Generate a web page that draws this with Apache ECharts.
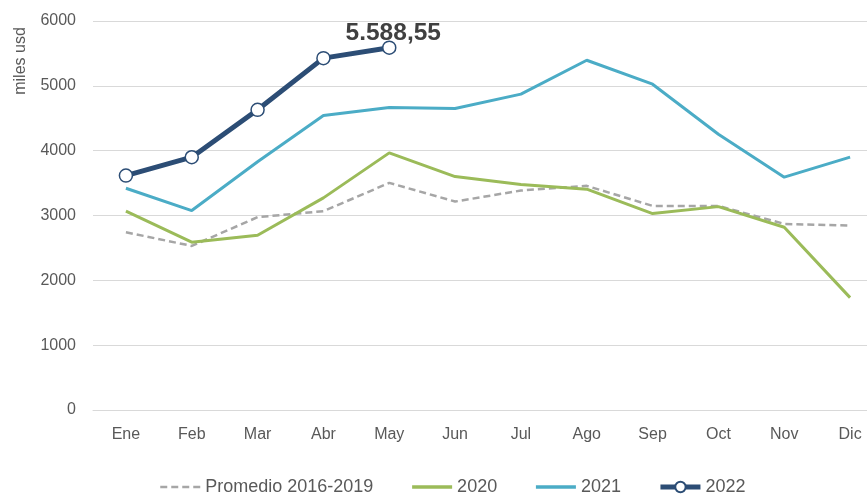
<!DOCTYPE html>
<html>
<head>
<meta charset="utf-8">
<script src="https://cdn.jsdelivr.net/npm/echarts@6/dist/echarts.min.js"></script>
<style>
  html, body { margin: 0; padding: 0; background: #fff; overflow: hidden; }
  /* el área del gráfico sigue más allá del borde derecho de la ventana */
  #chart { width: 883px; height: 495px; }
</style>
</head>
<body>
<div id="chart"></div>
<script>
const months = ["Ene", "Feb", "Mar", "Abr", "May", "Jun", "Jul", "Ago", "Sep", "Oct", "Nov", "Dic"];
const promedio = [2742, 2531, 2974, 3066, 3503, 3215, 3385, 3457, 3148, 3148, 2870, 2844];
const y2020 = [3066, 2588, 2696, 3272, 3966, 3600, 3477, 3406, 3030, 3137, 2819, 1733];
const y2021 = [3421, 3076, 3830, 4542, 4665, 4650, 4872, 5395, 5025, 4254, 3591, 3900];
const y2022 = [3616, 3899, 4630, 5427, 5588.55];
const yTicks = [0, 1000, 2000, 3000, 4000, 5000, 6000];

const font = "Liberation Sans, Arial, sans-serif";
const chart = echarts.init(document.getElementById("chart"));

// formato es: 5.588,55
function fmtEs(v) {
  const parts = v.toFixed(2).split(".");
  return parts[0].replace(/\B(?=(\d{3})+(?!\d))/g, ".") + "," + parts[1];
}

const data2022 = y2022.map((v, i) => {
  if (i === y2022.length - 1) {
    return {
      value: v,
      label: {
        show: true,
        position: "top",
        distance: 6,
        offset: [4, 11],
        formatter: (p) => fmtEs(p.value),
        fontSize: 24.5,
        fontWeight: "bold",
        color: "#404040",
        fontFamily: font,
      },
    };
  }
  return v;
});

chart.setOption({
  animation: false,
  textStyle: { fontFamily: font },
  grid: { left: 93, right: 0, top: 21, bottom: 85, containLabel: false },
  graphic: [
    {
      type: "text",
      x: 21,
      y: 61,
      rotation: Math.PI / 2,
      style: {
        text: "miles usd",
        fill: "#595959",
        font: "16px " + font,
        textAlign: "center",
        textVerticalAlign: "middle",
      },
    },
  ],
  legend: {
    left: 154,
    top: 473,
    itemWidth: 40,
    itemHeight: 13,
    itemGap: 37,
    textStyle: { color: "#595959", fontSize: 18, fontFamily: font },
    data: [
      { name: "Promedio 2016-2019", itemStyle: { opacity: 0 }, lineStyle: { width: 2.5 } },
      { name: "2020", itemStyle: { opacity: 0 }, lineStyle: { width: 3.5 } },
      { name: "2021", itemStyle: { opacity: 0 }, lineStyle: { width: 3.5 } },
      { name: "2022", lineStyle: { width: 5 } },
    ],
  },
  xAxis: {
    type: "category",
    data: months,
    boundaryGap: true,
    axisLine: { show: true, lineStyle: { color: "#d9d9d9" } },
    axisTick: { show: false },
    axisLabel: { color: "#595959", fontSize: 16, margin: 17, fontFamily: font },
  },
  yAxis: {
    type: "value",
    min: yTicks[0],
    max: yTicks[yTicks.length - 1],
    interval: 1000,
    axisLine: { show: false },
    axisTick: { show: false },
    axisLabel: {
      color: "#595959",
      fontSize: 16,
      margin: 17,
      fontFamily: font,
      formatter: (v) => String(v),
    },
    splitLine: { lineStyle: { color: "#d9d9d9", width: 1 } },
  },
  series: [
    {
      name: "Promedio 2016-2019",
      type: "line",
      data: promedio,
      symbol: "none",
      lineStyle: { color: "#a6a6a6", width: 2.5, type: [7, 4] },
      itemStyle: { color: "#a6a6a6" },
      z: 2,
    },
    {
      name: "2020",
      type: "line",
      data: y2020,
      symbol: "none",
      lineStyle: { color: "#9bbb59", width: 3 },
      itemStyle: { color: "#9bbb59" },
      z: 3,
    },
    {
      name: "2021",
      type: "line",
      data: y2021,
      symbol: "none",
      lineStyle: { color: "#4bacc6", width: 3 },
      itemStyle: { color: "#4bacc6" },
      z: 4,
    },
    {
      name: "2022",
      type: "line",
      data: data2022,
      symbol: "circle",
      symbolSize: 13,
      lineStyle: { color: "#2c4d75", width: 5 },
      itemStyle: { color: "#ffffff", borderColor: "#2c4d75", borderWidth: 1.5 },
      z: 5,
    },
  ],
});
</script>
</body>
</html>
